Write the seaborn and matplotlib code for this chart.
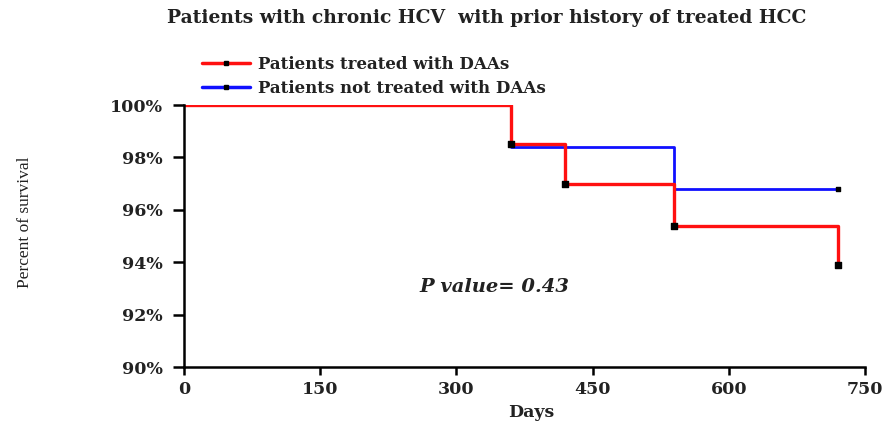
import matplotlib
matplotlib.use("Agg")
import matplotlib.pyplot as plt
import seaborn as sns
from matplotlib.lines import Line2D

# survival curves (days, percent surviving)
treated_days = [0, 360, 420, 540, 720]
treated_surv = [100, 98.5, 97.0, 95.4, 93.9]
untreated_days = [0, 360, 540, 720]
untreated_surv = [100, 98.4, 96.8, 96.8]

x_ticks = [0, 150, 300, 450, 600, 750]
y_ticks = [90, 92, 94, 96, 98, 100]
y_ticklabels = ["90%", "92%", "94%", "96%", "98%", "100%"]

labels = ["Patients treated with DAAs", "Patients not treated with DAAs"]
title = "Patients with chronic HCV  with prior history of treated HCC"
p_text = "P value= 0.43"

sns.set_style("white")
plt.rcParams["font.family"] = ["DejaVu Serif"]

fig = plt.figure(figsize=(8.93, 4.22), dpi=100)
ax = fig.add_axes([0.206, 0.130, 0.7626, 0.621])

sns.lineplot(x=untreated_days, y=untreated_surv, drawstyle="steps-post",
             color="#1010ff", linewidth=2, ax=ax)
sns.lineplot(x=treated_days, y=treated_surv, drawstyle="steps-post",
             color="#ff1010", linewidth=2.4, ax=ax)

# black event markers
ax.scatter(treated_days[1:], treated_surv[1:], marker="s", s=16,
           color="black", zorder=5)
ax.scatter(untreated_days[-1:], untreated_surv[-1:], marker="s", s=8,
           color="black", zorder=5)

ax.set_xlim(0, 750)
ax.set_ylim(90, 100)
ax.set_xticks(x_ticks)
ax.set_yticks(y_ticks)
ax.set_yticklabels(y_ticklabels)
for lab in ax.get_xticklabels() + ax.get_yticklabels():
    lab.set_fontweight("bold")
    lab.set_fontsize(12.5)
    lab.set_color("#222222")

ax.tick_params(axis="y", direction="out", length=8, width=1.8,
               color="black", left=True, pad=7)
ax.tick_params(axis="x", direction="out", length=6, width=1.8,
               color="black", bottom=True, pad=4)
for side in ["top", "right"]:
    ax.spines[side].set_visible(False)
for side in ["left", "bottom"]:
    ax.spines[side].set_linewidth(1.8)
    ax.spines[side].set_color("black")

ax.set_xlabel("Days", fontsize=12.5, fontweight="bold", color="#222222")
ax.xaxis.set_label_coords(0.51, -0.14)
ax.set_ylabel("Percent of survival", fontsize=12.5, family=["Liberation Serif"],
              color="#222222")
ax.yaxis.set_label_coords(-0.222, 0.553)

ax.text(342, 93.05, p_text, fontsize=14, fontweight="bold", style="italic",
        ha="center", va="center", color="#222222")

handles = [
    Line2D([0], [0], color="#ff1010", linewidth=2.5, marker="s",
           markersize=3, markerfacecolor="black", markeredgecolor="black"),
    Line2D([0], [0], color="#1010ff", linewidth=2.5, marker="s",
           markersize=3, markerfacecolor="black", markeredgecolor="black"),
]
leg = fig.legend(handles, labels, loc="upper left",
                 bbox_to_anchor=(0.2094, 0.904), frameon=False,
                 handlelength=2.9, handletextpad=0.48, labelspacing=0.43,
                 prop={"family": "DejaVu Serif", "weight": "bold", "size": 12})
for t in leg.get_texts():
    t.set_color("#222222")

fig.text(0.545, 0.957, title, ha="center", va="center", fontsize=13.5,
         fontweight="bold", color="#222222")

fig.savefig("out.png", dpi=100)
